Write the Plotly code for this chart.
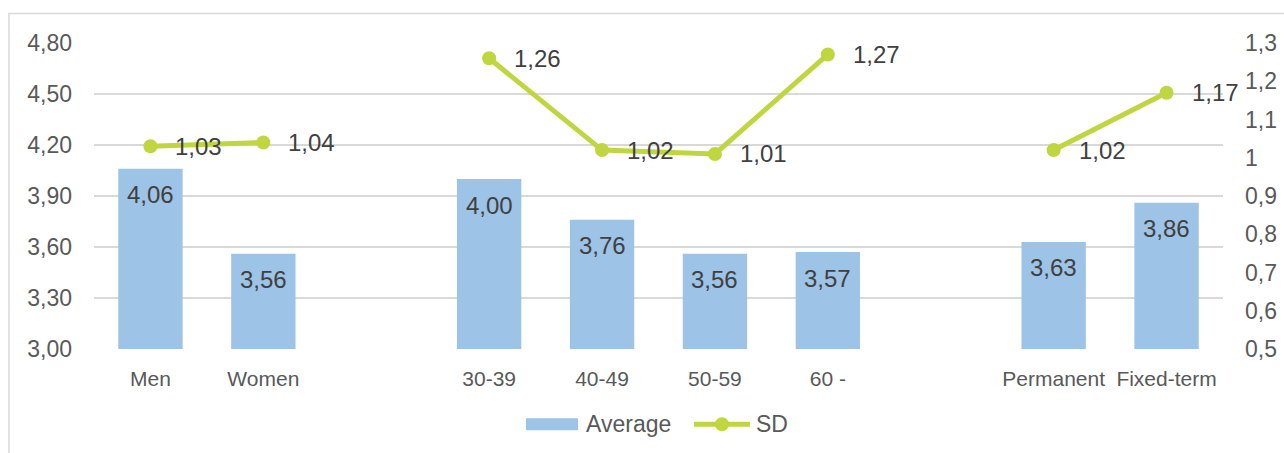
import plotly.graph_objects as go

# Groups are separated by blank spacer categories
categories = ["Men", "Women", " ", "30-39", "40-49", "50-59", "60 -", "  ", "Permanent", "Fixed-term"]
average = [4.06, 3.56, None, 4.00, 3.76, 3.56, 3.57, None, 3.63, 3.86]
sd = [1.03, 1.04, None, 1.26, 1.02, 1.01, 1.27, None, 1.02, 1.17]

left_ticks = [3.00, 3.30, 3.60, 3.90, 4.20, 4.50, 4.80]
right_ticks = [0.5, 0.6, 0.7, 0.8, 0.9, 1.0, 1.1, 1.2, 1.3]

BAR_COLOR = "#9DC3E6"
LINE_COLOR = "#BFD641"
LABEL_COLOR = "#404040"
AXIS_COLOR = "#595959"
FONT = "Liberation Sans, Arial, sans-serif"


def fmt(v):
    return f"{v:.2f}".replace(".", ",")


fig = go.Figure()

fig.add_trace(go.Bar(
    x=categories, y=average, name="Average",
    marker=dict(color=BAR_COLOR, line=dict(width=0)),
    showlegend=False,
))

fig.add_trace(go.Scatter(
    x=categories, y=sd, name="SD", yaxis="y2",
    mode="lines+markers",
    line=dict(color=LINE_COLOR, width=5),
    marker=dict(color=LINE_COLOR, size=14),
    connectgaps=False,
    showlegend=False,
    cliponaxis=False,
))

annotations = []
# Value labels inside the top of each bar
for c, v in zip(categories, average):
    if v is None:
        continue
    annotations.append(dict(x=c, y=v, xref="x", yref="y", text=fmt(v), showarrow=False,
                            yanchor="middle", yshift=-26,
                            font=dict(size=24, color=LABEL_COLOR, family=FONT)))
# Value labels to the right of each SD point
for c, v in zip(categories, sd):
    if v is None:
        continue
    annotations.append(dict(x=c, y=v, xref="x", yref="y2", text=fmt(v), showarrow=False,
                            xanchor="left", yanchor="middle", xshift=23,
                            font=dict(size=24, color=LABEL_COLOR, family=FONT)))

# Legend drawn as shapes and text below the plot
annotations.append(dict(x=0.434, y=-0.246, xref="paper", yref="paper", text="Average",
                        showarrow=False, xanchor="left", yanchor="middle",
                        font=dict(size=23, color=AXIS_COLOR, family=FONT)))
annotations.append(dict(x=0.5846, y=-0.246, xref="paper", yref="paper", text="SD",
                        showarrow=False, xanchor="left", yanchor="middle",
                        font=dict(size=23, color=AXIS_COLOR, family=FONT)))

shapes = [
    # outer chart frame
    dict(type="rect", xref="paper", yref="paper",
         x0=-0.0753, x1=1.08, y0=-0.5, y1=1.0966,
         line=dict(color="#D9D9D9", width=1.5), fillcolor="rgba(0,0,0,0)", layer="below"),
    # legend swatch: bars
    dict(type="rect", xref="paper", yref="paper",
         x0=0.3826, x1=0.4287, y0=-0.2656, y1=-0.2262,
         line=dict(width=0), fillcolor=BAR_COLOR),
    # legend swatch: line with marker
    dict(type="line", xref="paper", yref="paper",
         x0=0.5314, x1=0.5810, y0=-0.246, y1=-0.246,
         line=dict(color=LINE_COLOR, width=5)),
    dict(type="circle", xref="paper", yref="paper",
         x0=0.5562 - 0.0062, x1=0.5562 + 0.0062, y0=-0.246 - 0.023, y1=-0.246 + 0.023,
         line=dict(width=0), fillcolor=LINE_COLOR),
]

fig.update_layout(
    width=1284, height=453,
    margin=dict(l=94, r=61, t=43, b=104),
    paper_bgcolor="white", plot_bgcolor="white",
    separators=",.",
    font=dict(family=FONT, color=AXIS_COLOR, size=20),
    bargap=0.43,
    showlegend=False,
    xaxis=dict(type="category", categoryorder="array", categoryarray=categories,
               range=[-0.5, len(categories) - 0.5],
               tickfont=dict(size=21, color=AXIS_COLOR), showgrid=False,
               ticks="outside", ticklen=11, tickcolor="rgba(0,0,0,0)",
               automargin=False),
    yaxis=dict(range=[3.0, 4.8], tickvals=left_ticks, tickformat=".2f",
               showgrid=True, gridcolor="#D9D9D9", gridwidth=1.5,
               zeroline=False, showline=False, automargin=False,
               tickfont=dict(size=23, color=AXIS_COLOR), ticklabelstandoff=21),
    yaxis2=dict(range=[0.5, 1.3], tickvals=right_ticks, overlaying="y", side="right",
                showgrid=False, zeroline=False, showline=False, automargin=False,
                tickfont=dict(size=23, color=AXIS_COLOR), ticklabelstandoff=21),
    annotations=annotations,
    shapes=shapes,
)

fig.write_html("out.html")
